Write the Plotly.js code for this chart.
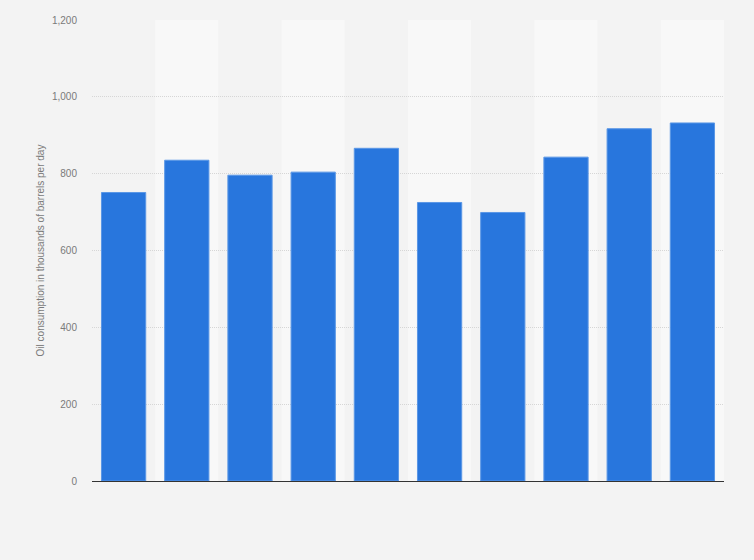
<!DOCTYPE html>
<html>
<head>
<meta charset="utf-8">
<script src="https://cdn.plot.ly/plotly-3.0.1.min.js"></script>
<style>
  html, body { margin: 0; padding: 0; background: #f3f3f3; }
  #chart { width: 754px; height: 560px; }
</style>
</head>
<body>
<div id="chart"></div>
<script>
// Values (thousand barrels per day)
var years = ['2009', '2010', '2011', '2012', '2013', '2014', '2015', '2016', '2017', '2018'];
var consumption = [751, 835, 796, 804, 866, 725, 699, 843, 917, 932];
var yTicks = [0, 200, 400, 600, 800, 1000, 1200];

// Alternating column bands behind the bars
var bands = years.map(function (y, i) {
	return {
		type: 'rect',
		layer: 'below',
		xref: 'x',
		yref: 'paper',
		x0: i - 0.5,
		x1: i + 0.5,
		y0: 0,
		y1: 1,
		line: { width: 0 },
		fillcolor: i % 2 === 0 ? '#f3f3f3' : '#f8f8f8'
	};
});

var trace = [{
	type: 'bar',
	x: years,
	y: consumption,
	marker: {
		color: '#2876dd',
		line: { color: '#5a97e6', width: 1 }
	},
	hoverinfo: 'x+y'
}];

Plotly.newPlot('chart', trace, {
	width: 754,
	height: 560,
	paper_bgcolor: '#f3f3f3',
	plot_bgcolor: '#f3f3f3',
	margin: { l: 92, r: 30, t: 20, b: 79 },
	bargap: 0.3,
	showlegend: false,
	font: { family: 'Liberation Sans, Arial, sans-serif', size: 10, color: '#7a7a7a' },
	shapes: bands,
	xaxis: {
		type: 'category',
		showticklabels: false,
		ticks: '',
		showgrid: false,
		showline: true,
		linecolor: '#333',
		linewidth: 1,
		zeroline: false
	},
	yaxis: {
		range: [0, 1200],
		tickvals: yTicks,
		tickformat: ',d',
		ticks: '',
		ticklabelstandoff: 14,
		showgrid: true,
		gridcolor: '#d6d6d6',
		griddash: '1px,1px',
		gridwidth: 1,
		zeroline: false,
		title: {
			text: 'Oil consumption in thousands of barrels per day',
			font: { size: 10, color: '#7a7a7a' },
			standoff: 5
		}
	}
}, { displayModeBar: false });
</script>
</body>
</html>
